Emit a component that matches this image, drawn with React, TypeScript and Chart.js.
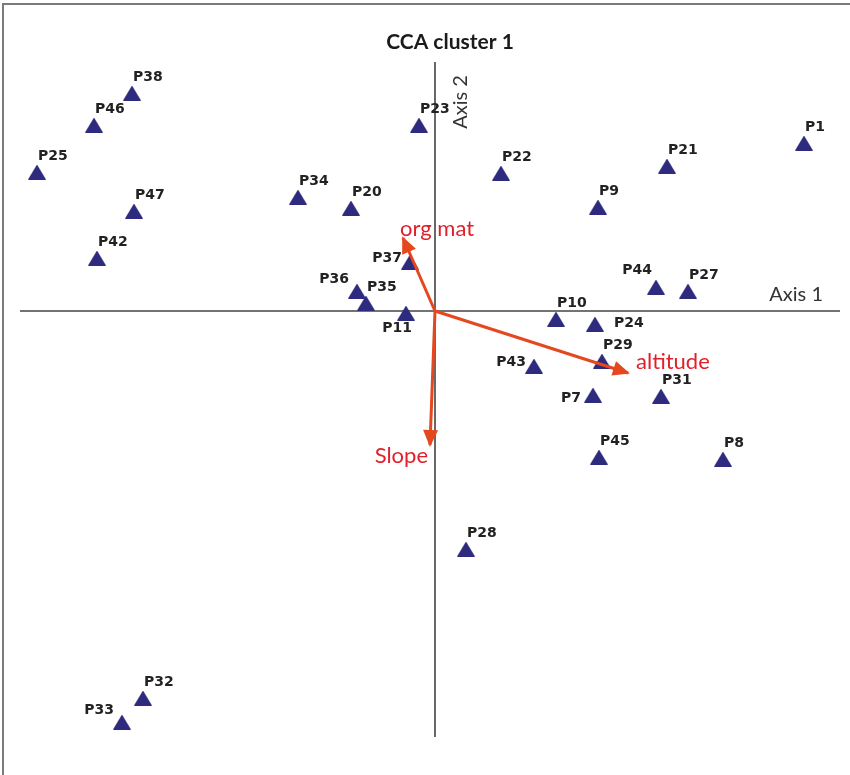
import React, { useEffect, useRef } from "react";
import { Chart, registerables } from "chart.js";

Chart.register(...registerables);

// ---- data ----
const sites = ["P38","P46","P25","P47","P42","P23","P34","P20","P22","P21","P1","P9","P37","P36","P35","P11","P44","P27","P10","P24","P29","P43","P7","P31","P45","P8","P28","P32","P33"];
const axis1Scores = [-3.03,-3.41,-3.98,-3.01,-3.38,-0.16,-1.37,-0.84,0.66,2.32,3.69,1.63,-0.25,-0.78,-0.69,-0.29,2.21,2.53,1.21,1.60,1.67,0.99,1.58,2.26,1.64,2.88,0.31,-2.92,-3.13];
const axis2Scores = [2.18,1.86,1.39,1.00,0.53,1.86,1.14,1.03,1.38,1.45,1.68,1.04,0.49,0.20,0.08,-0.02,0.24,0.20,-0.08,-0.13,-0.50,-0.55,-0.84,-0.85,-1.46,-1.48,-2.38,-3.87,-4.11];
const labelSide = ["above","above","above","above","above","above","above","above","above","above","above","above","left","leftAbove","above","below","aboveLeft","above","above","right","above","left","leftLow","above","above","above","above","above","leftAbove"];

const envVariables = ["org mat", "altitude", "Slope"];
const envAxis1 = [-0.32, 1.93, -0.05];
const envAxis2 = [0.73, -0.62, -1.34];

const axisExtent1 = [-4.15, 4.05];
const axisExtent2 = [-4.26, 2.49];
const axisNames = ["Axis 1", "Axis 2"];
const chartTitle = "CCA cluster 1";

// ---- styles ----
const TRI_COLOR = "#2e2a7d";
const ARROW_COLOR = "#e5471e";
const ENV_TEXT_COLOR = "#e0212b";
const AXIS_COLOR = "#444444";

function makeTriangle(): HTMLCanvasElement {
  const c = document.createElement("canvas");
  c.width = 18;
  c.height = 15;
  const ctx = c.getContext("2d")!;
  ctx.fillStyle = TRI_COLOR;
  ctx.beginPath();
  ctx.moveTo(0, 15);
  ctx.lineTo(9, 0);
  ctx.lineTo(18, 15);
  ctx.closePath();
  ctx.fill();
  return c;
}

const labelPlugin = {
  id: "ccaLabels",
  afterDatasetsDraw(chart: any) {
    const ctx = chart.ctx;
    const xs = chart.scales.x;
    const ys = chart.scales.y;
    ctx.save();

    // arrow heads
    envVariables.forEach((_, i) => {
      const x0 = xs.getPixelForValue(0);
      const y0 = ys.getPixelForValue(0);
      const x1 = xs.getPixelForValue(envAxis1[i]);
      const y1 = ys.getPixelForValue(envAxis2[i]);
      const ang = Math.atan2(y1 - y0, x1 - x0);
      const tx = x1 + Math.cos(ang) * 2;
      const ty = y1 + Math.sin(ang) * 2;
      const len = 17;
      const hw = 7.5;
      const bx = tx - Math.cos(ang) * len;
      const by = ty - Math.sin(ang) * len;
      ctx.fillStyle = ARROW_COLOR;
      ctx.beginPath();
      ctx.moveTo(tx, ty);
      ctx.lineTo(bx + Math.sin(ang) * hw, by - Math.cos(ang) * hw);
      ctx.lineTo(bx - Math.sin(ang) * hw, by + Math.cos(ang) * hw);
      ctx.closePath();
      ctx.fill();
    });

    // env labels
    ctx.font = '22px Lato, "Open Sans", sans-serif';
    ctx.fillStyle = ENV_TEXT_COLOR;
    ctx.textBaseline = "middle";
    const envPlace = [
      { align: "left", dx: -3, dy: -9 },
      { align: "left", dx: 8, dy: -11 },
      { align: "right", dx: -2, dy: 11 },
    ];
    envVariables.forEach((name, i) => {
      const p = envPlace[i];
      const x = xs.getPixelForValue(envAxis1[i]);
      const y = ys.getPixelForValue(envAxis2[i]);
      ctx.textAlign = p.align;
      ctx.fillText(name, x + p.dx, y + p.dy);
    });

    // axis names
    ctx.font = '20px Lato, "Open Sans", sans-serif';
    ctx.fillStyle = "#333333";
    ctx.textAlign = "right";
    ctx.fillText(axisNames[0], xs.getPixelForValue(axisExtent1[1]) - 17, ys.getPixelForValue(0) - 16);
    ctx.save();
    ctx.translate(xs.getPixelForValue(0) + 26, ys.getPixelForValue(axisExtent2[1]) + 40);
    ctx.rotate(-Math.PI / 2);
    ctx.textAlign = "center";
    ctx.fillText(axisNames[1], 0, 0);
    ctx.restore();

    // site labels
    ctx.font = 'bold 14px "DejaVu Sans", sans-serif';
    ctx.fillStyle = "#222222";
    sites.forEach((name, i) => {
      const x = xs.getPixelForValue(axis1Scores[i]);
      const y = ys.getPixelForValue(axis2Scores[i]);
      const side = labelSide[i];
      let tx = x + 1, ty = y - 16, al = "left";
      if (side === "left") { tx = x - 8; ty = y - 4; al = "right"; }
      else if (side === "leftLow") { tx = x - 12; ty = y + 3; al = "right"; }
      else if (side === "leftAbove") { tx = x - 8; ty = y - 12; al = "right"; }
      else if (side === "below") { tx = x - 9; ty = y + 15; al = "center"; }
      else if (side === "right") { tx = x + 19; ty = y - 1; al = "left"; }
      else if (side === "aboveLeft") { tx = x - 4; ty = y - 17; al = "right"; }
      ctx.textAlign = al;
      ctx.fillText(name, tx, ty);
    });

    ctx.restore();
  },
};

export default function App() {
  const ref = useRef<HTMLCanvasElement | null>(null);

  useEffect(() => {
    if (!ref.current) return;
    const tri = makeTriangle();
    const chart = new Chart(ref.current, {
      type: "scatter",
      data: {
        datasets: [
          {
            label: "Axis 1 line",
            data: [{ x: axisExtent1[0], y: 0 }, { x: axisExtent1[1], y: 0 }],
            showLine: true,
            borderColor: AXIS_COLOR,
            borderWidth: 1.6,
            pointRadius: 0,
            clip: false,
            order: 4,
          },
          {
            label: "Axis 2 line",
            data: [{ x: 0, y: axisExtent2[1] }, { x: 0, y: axisExtent2[0] }],
            showLine: true,
            borderColor: AXIS_COLOR,
            borderWidth: 1.6,
            pointRadius: 0,
            clip: false,
            order: 3,
          },
          {
            label: "Sites",
            data: sites.map((_, i) => ({ x: axis1Scores[i], y: axis2Scores[i] })),
            pointStyle: tri as any,
            pointRadius: 9,
            pointHoverRadius: 9,
            clip: false,
            order: 2,
          },
          ...envVariables.map((name, i) => ({
            label: name,
            data: [{ x: 0, y: 0 }, { x: envAxis1[i], y: envAxis2[i] }],
            showLine: true,
            borderColor: ARROW_COLOR,
            borderWidth: 3,
            pointRadius: 0,
            clip: false,
            order: 1,
          })),
        ],
      },
      options: {
        animation: false,
        responsive: true,
        maintainAspectRatio: false,
        layout: { padding: { left: 20, right: 20, top: 0, bottom: 38 } },
        scales: {
          x: { type: "linear", min: -4.15, max: 4.45, display: false },
          y: { type: "linear", min: -4.26, max: 2.49, display: false },
        },
        plugins: {
          legend: { display: false },
          tooltip: { enabled: false },
          title: {
            display: true,
            text: chartTitle,
            color: "#1a1a1a",
            font: { family: 'Lato, "Open Sans", sans-serif', size: 21, weight: "bold", lineHeight: 1 },
            padding: { top: 32, bottom: 9 },
          },
        },
      } as any,
      plugins: [labelPlugin],
    });
    return () => chart.destroy();
  }, []);

  return (
    <div style={{ position: "absolute", left: 0, top: 0, width: 850, height: 775, background: "#ffffff", overflow: "hidden" }}>
      <div
        style={{
          position: "absolute",
          left: 2,
          top: 3,
          width: 848,
          height: 772,
          borderTop: "2px solid #7a7a7a",
          borderLeft: "2px solid #7a7a7a",
        }}
      />
      <div style={{ position: "absolute", left: 0, top: 0, width: 900, height: 775 }}>
        <canvas ref={ref} />
      </div>
    </div>
  );
}
